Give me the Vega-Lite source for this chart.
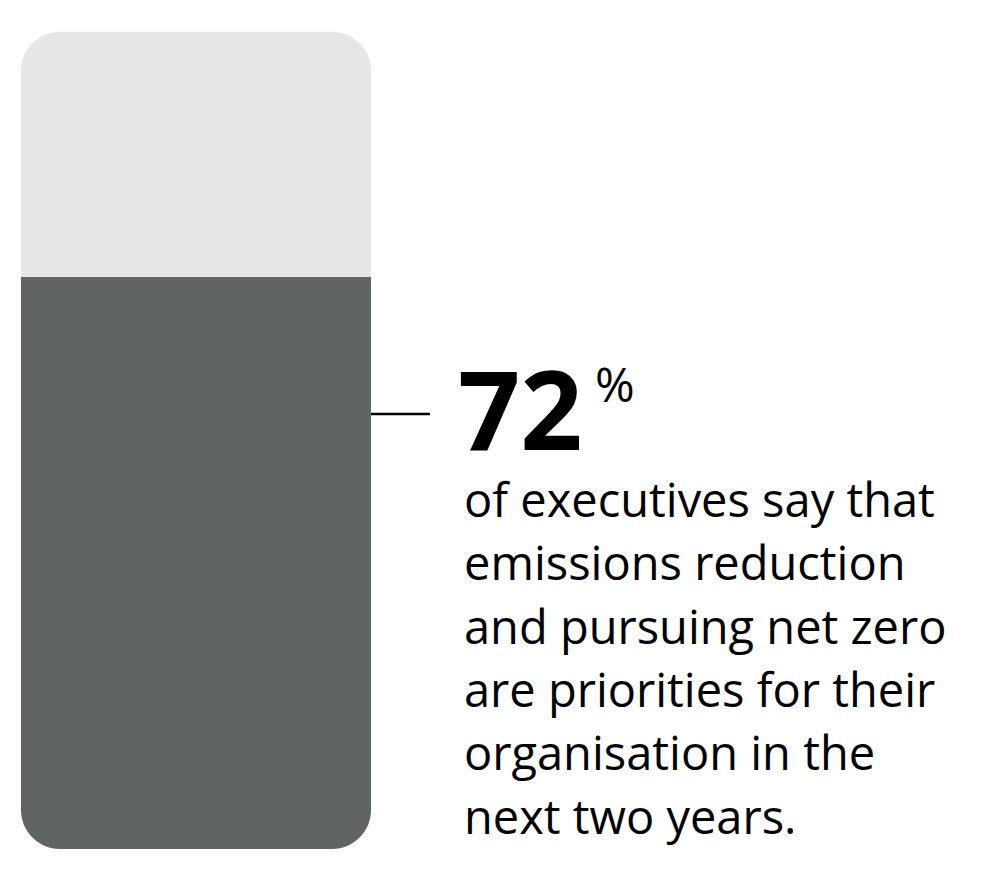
{
  "$schema": "https://vega.github.io/schema/vega-lite/v6.json",
  "width": 986,
  "height": 873,
  "padding": 0,
  "autosize": {"type": "fit", "contains": "padding"},
  "background": "#ffffff",
  "config": {"view": {"stroke": null}, "font": "Open Sans"},
  "datasets": {
    "bar": [
      {"part": "total", "value": 100},
      {"part": "share", "value": 70}
    ],
    "stat": [
      {"figure": "72", "unit": "%", "lines": ["of executives say that", "emissions reduction", "and pursuing net zero", "are priorities for their", "organisation in the", "next two years."]}
    ]
  },
  "encoding": {
    "x": {"type": "quantitative", "scale": {"domain": [0, 986], "nice": false, "zero": false}, "axis": null},
    "y": {"type": "quantitative", "scale": {"domain": [-2.94, 103.88], "nice": false, "zero": false}, "axis": null}
  },
  "layer": [
    {
      "data": {"name": "bar"},
      "transform": [{"filter": "datum.part === 'total'"}],
      "mark": {"type": "bar", "color": "#e6e6e6", "cornerRadius": 39},
      "encoding": {
        "x": {"datum": 21},
        "x2": {"datum": 371},
        "y": {"field": "value", "type": "quantitative"},
        "y2": {"datum": 0}
      }
    },
    {
      "data": {"name": "bar"},
      "transform": [{"filter": "datum.part === 'share'"}],
      "mark": {"type": "bar", "color": "#616465", "cornerRadiusBottomLeft": 39, "cornerRadiusBottomRight": 39},
      "encoding": {
        "x": {"datum": 21},
        "x2": {"datum": 371},
        "y": {"field": "value", "type": "quantitative"},
        "y2": {"datum": 0}
      }
    },
    {
      "data": {"name": "stat"},
      "mark": {"type": "rule", "color": "#000000", "strokeWidth": 2.5},
      "encoding": {
        "x": {"datum": 371},
        "x2": {"datum": 430},
        "y": {"datum": 53.22}
      }
    },
    {
      "data": {"name": "stat"},
      "mark": {"type": "text", "font": "Open Sans", "fontWeight": "bold", "fontSize": 109, "align": "left", "baseline": "alphabetic", "color": "#000000"},
      "encoding": {
        "x": {"datum": 458},
        "y": {"datum": 48.82},
        "text": {"field": "figure"}
      }
    },
    {
      "data": {"name": "stat"},
      "mark": {"type": "text", "font": "Open Sans", "fontSize": 48, "align": "left", "baseline": "alphabetic", "color": "#000000"},
      "encoding": {
        "x": {"datum": 595},
        "y": {"datum": 54.75},
        "text": {"field": "unit"}
      }
    },
    {
      "data": {"name": "stat"},
      "mark": {"type": "text", "font": "Open Sans", "fontSize": 47, "lineHeight": 63.3, "align": "left", "baseline": "alphabetic", "color": "#000000"},
      "encoding": {
        "x": {"datum": 464},
        "y": {"datum": 40.62},
        "text": {"field": "lines"}
      }
    }
  ]
}
